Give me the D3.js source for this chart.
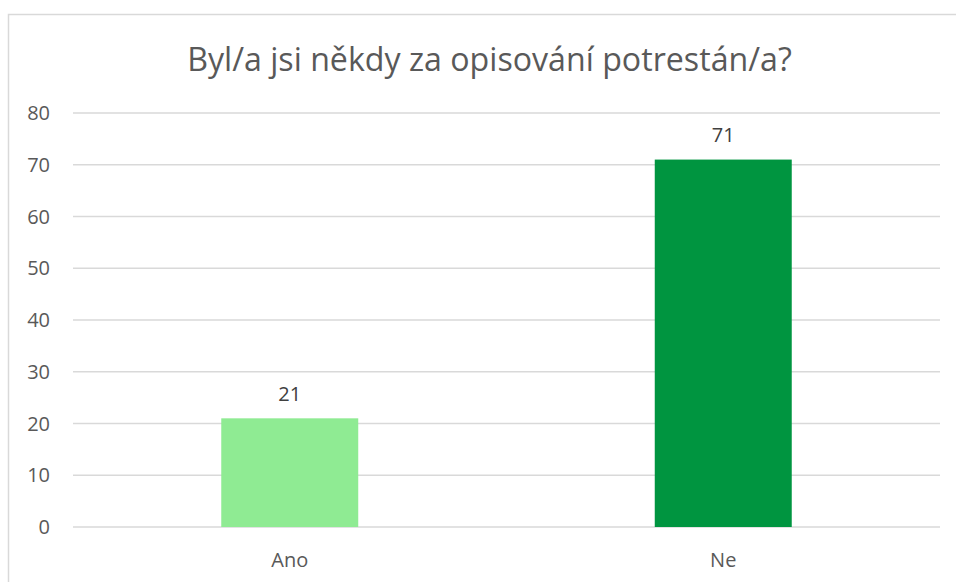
<!DOCTYPE html>
<html><head><meta charset="utf-8">
<script src="https://cdn.jsdelivr.net/npm/d3@7"></script>
<style>body{margin:0;background:#fff;} svg{display:block;}</style>
</head><body>
<svg id="c" width="956" height="582"></svg>
<script>
const categories = ["Ano", "Ne"];
const values = [21, 71];
const colors = ["#8FEB93", "#009540"];
const yTicks = [0, 10, 20, 30, 40, 50, 60, 70, 80];
const title = "Byl/a jsi někdy za opisování potrestán/a?";

const svg = d3.select("#c");
const font = "'Open Sans', sans-serif";
const mLeft = 73, mRight = 940, mTop = 113, mBottom = 527;

svg.append("rect").attr("x", 8.5).attr("y", 14.5).attr("width", 960).attr("height", 600)
  .attr("fill", "#fff").attr("stroke", "#d9d9d9").attr("stroke-width", 1.5);

const x = d3.scaleBand().domain(categories).range([mLeft, mRight]).paddingInner(0.684).paddingOuter(0.342);
const y = d3.scaleLinear().domain([0, 80]).range([mBottom, mTop]);

svg.append("g").selectAll("line").data(yTicks).join("line")
  .attr("x1", mLeft).attr("x2", mRight)
  .attr("y1", d => y(d)).attr("y2", d => y(d))
  .attr("stroke", "#d9d9d9").attr("stroke-width", 1.3);

svg.append("g").selectAll("text").data(yTicks).join("text")
  .attr("x", 50).attr("y", d => y(d)).attr("dy", "0.36em")
  .attr("text-anchor", "end").attr("font-family", font).attr("font-size", 20)
  .attr("fill", "#595959").text(d => d);

svg.append("g").selectAll("rect").data(values).join("rect")
  .attr("x", (d, i) => x(categories[i])).attr("width", x.bandwidth())
  .attr("y", d => y(d)).attr("height", d => y(0) - y(d))
  .attr("fill", (d, i) => colors[i]);

svg.append("g").selectAll("text").data(values).join("text")
  .attr("x", (d, i) => x(categories[i]) + x.bandwidth() / 2)
  .attr("y", d => y(d) - 25).attr("dy", "0.36em")
  .attr("text-anchor", "middle").attr("font-family", font).attr("font-size", 20)
  .attr("fill", "#404040").text(d => d);

svg.append("g").selectAll("text").data(categories).join("text")
  .attr("x", d => x(d) + x.bandwidth() / 2).attr("y", 559.5).attr("dy", "0.36em")
  .attr("text-anchor", "middle").attr("font-family", font).attr("font-size", 20)
  .attr("fill", "#595959").text(d => d);

const t = svg.append("text").attr("x", 489.5).attr("y", 71)
  .attr("text-anchor", "middle").attr("font-family", font).attr("font-size", 30)
  .attr("fill", "#595959").text(title);
const w = t.node().getComputedTextLength();
t.attr("font-size", 30 * 605 / w);
</script>
</body></html>
